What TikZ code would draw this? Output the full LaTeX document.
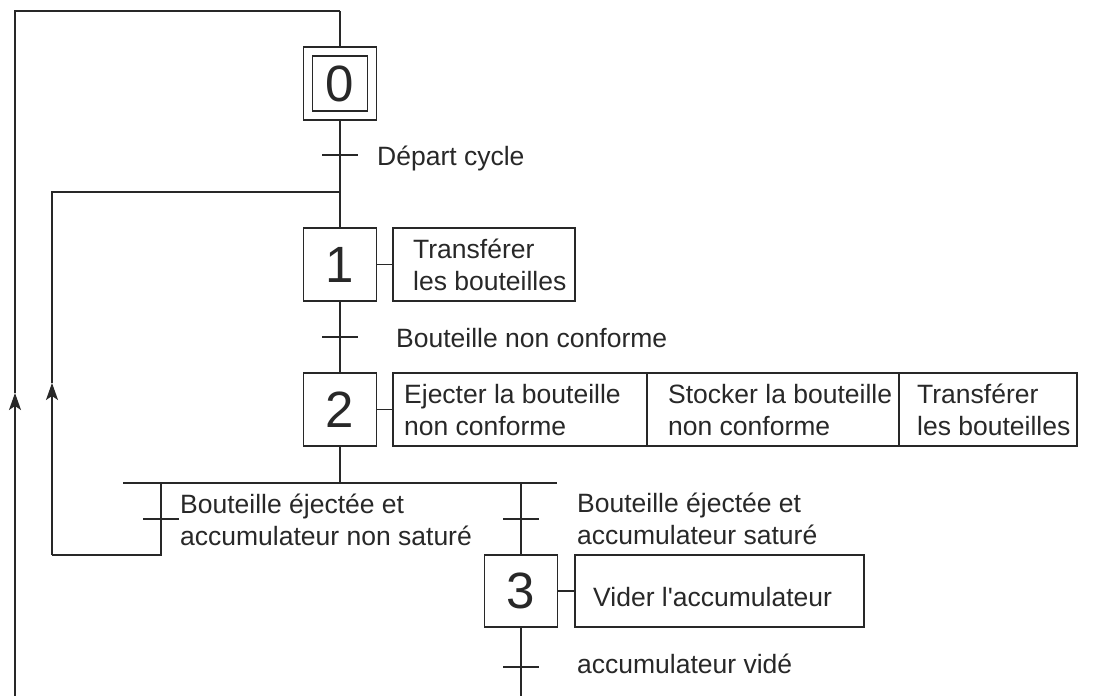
\documentclass[tikz,border=0pt]{standalone}
\usepackage{fontspec}
\setmainfont{Liberation Sans}[Ligatures=TeXOff]
\usetikzlibrary{arrows.meta}
\definecolor{ink}{RGB}{40,40,40}
\begin{document}
\begin{tikzpicture}[x=1pt,y=-1pt,
  ln/.style={draw=ink,line width=1.6pt},
  stepbox/.style={draw=ink,line width=1.6pt,minimum width=73pt,minimum height=73pt,inner sep=0pt,font=\fontsize{51}{60}\selectfont,text=ink},
  innerbox/.style={draw=ink,line width=1.6pt,minimum width=55pt,minimum height=55pt,inner sep=0pt,font=\fontsize{51}{60}\selectfont,text=ink},
  actbox/.style={draw=ink,line width=1.6pt,minimum height=73pt,inner sep=0pt},
  lbl/.style={anchor=base west,inner sep=0pt,font=\fontsize{26.5}{32}\selectfont,text=ink,align=left},
  arr/.style={-{Stealth[length=17pt,width=12pt,inset=4pt]}}
]
\useasboundingbox[fill=white] (0,0) rectangle (1093,696);

% steps
\node[stepbox] (s0) at (340,83.5) {};
\node[innerbox] (s0i) at (s0.center) {0};
\node[stepbox] (s1) at (340,264.5) {1};
\node[stepbox] (s2) at (340,409.5) {2};
\node[stepbox,minimum height=72pt] (s3) at (521,591) {3};

% actions (multi-line text: base = baseline of last line)
\node[actbox,minimum width=182pt] (a1) at (484,264.5) {};
\node[lbl] (a1t) at (413,290) {Transférer\\les bouteilles};
\node[actbox,minimum width=254pt] (a2a) at (520,409.5) {};
\node[lbl] (a2at) at (404,435) {Ejecter la bouteille\\non conforme};
\node[actbox,minimum width=252pt] (a2b) at (773,409.5) {};
\node[lbl] (a2bt) at (668,435) {Stocker la bouteille\\non conforme};
\node[actbox,minimum width=178pt] (a2c) at (988,409.5) {};
\node[lbl] (a2ct) at (917,435) {Transférer\\les bouteilles};
\node[actbox,minimum width=289pt,minimum height=72pt] (a3) at (719.5,591) {};
\node[lbl] (a3t) at (593,606) {Vider l'accumulateur};

\draw[ln] (s1.east) -- (a1.west);
\draw[ln] (s2.east) -- (a2a.west);
\draw[ln] (s3.east) -- (a3.west);

% coordinates
\coordinate (t0) at (340,155);
\coordinate (j1) at (340,192);
\coordinate (t1) at (340,337);
\coordinate (or) at (340,483);
\coordinate (orL) at (123,483);
\coordinate (orR) at (557,483);
\coordinate (bL) at (161,483);
\coordinate (tL) at (161,519);
\coordinate (cL) at (161,555);
\coordinate (dL) at (52,555);
\coordinate (aL) at (52,383);
\coordinate (eL) at (52,192);
\coordinate (bR) at (521,483);
\coordinate (tR) at (521,519);
\coordinate (t3) at (521,667);
\coordinate (end3) at (521,696);
\coordinate (oB) at (15,696);
\coordinate (oA) at (15,393);
\coordinate (oT) at (15,11);
\coordinate (oR) at (340,11);

% main flow
\draw[ln] (oR) -- (s0.north);
\draw[ln] (s0.south) -- (s1.north);
\draw[ln] (s1.south) -- (s2.north);
\draw[ln] (s2.south) -- (or);
\draw[ln] (orL) -- (orR);
\draw[ln] (bL) -- (cL) -- (dL);
\draw[ln,arr] (dL) -- (aL);
\draw[ln] (aL) -- (eL) -- (j1);
\draw[ln] (bR) -- (s3.north);
\draw[ln] (s3.south) -- (end3);
\draw[ln,arr] (oB) -- (oA);
\draw[ln] (oA) -- (oT) -- (oR);

% transitions
\foreach \t in {t0,t1,tL,tR,t3}
  \draw[ln] ([xshift=-18pt]\t) -- ([xshift=18pt]\t);

% labels
\node[lbl] (l0) at (377,165) {Départ cycle};
\node[lbl] (l1) at (396,347) {Bouteille non conforme};
\node[lbl] (lL) at (180,545) {Bouteille éjectée et\\accumulateur non saturé};
\node[lbl] (lR) at (577,544) {Bouteille éjectée et\\accumulateur saturé};
\node[lbl] (l3) at (577,673) {accumulateur vidé};
\end{tikzpicture}
\end{document}
